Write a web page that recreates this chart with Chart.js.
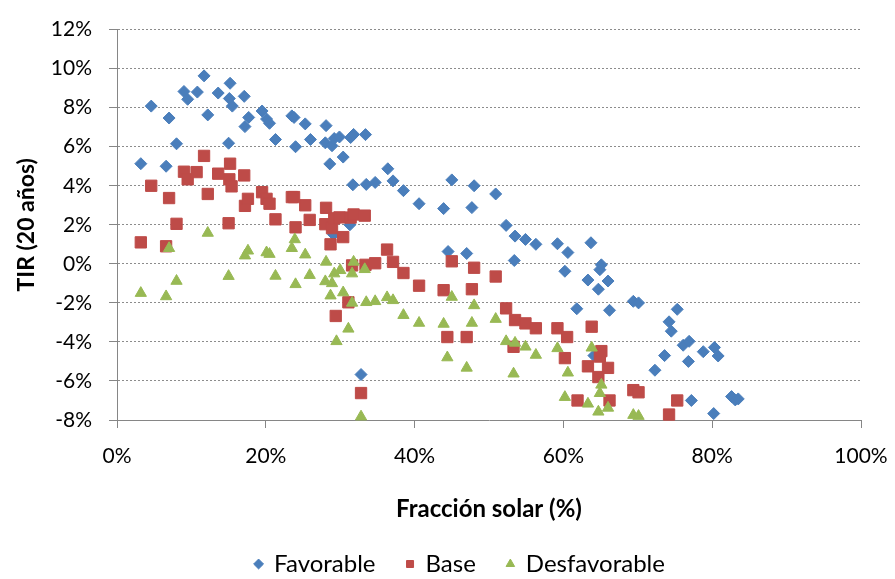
<!DOCTYPE html>
<html>
<head>
<meta charset="utf-8">
<script src="https://cdn.jsdelivr.net/npm/chart.js@4/dist/chart.umd.min.js"></script>
<style>
  html, body { margin: 0; padding: 0; background: #fff; }
  #wrap { width: 895px; height: 579px; }
</style>
</head>
<body>
<div id="wrap"><canvas id="tirChart" width="895" height="579"></canvas></div>
<script>
// Fracción solar (%) / TIR (%)
const favX = [3.2, 4.6, 6.6, 7.0, 8.0, 9.0, 9.5, 10.8, 11.7, 12.2, 13.6, 15.0, 15.1, 15.2, 15.5, 17.1, 17.2, 17.7, 19.5, 20.1, 20.5, 21.3, 23.5, 23.8, 24.0, 25.3, 26.0, 28.1, 28.0, 28.6, 28.9, 29.2, 29.9, 29.1, 30.4, 31.3, 31.4, 31.7, 31.8, 32.8, 33.4, 33.5, 34.7, 36.4, 37.1, 38.5, 40.6, 43.9, 44.5, 45.0, 47.0, 47.7, 48.0, 50.9, 52.3, 53.4, 53.5, 54.9, 56.3, 59.2, 60.2, 60.6, 61.8, 63.3, 63.7, 64.1, 64.7, 64.9, 65.1, 66.0, 66.2, 69.4, 70.1, 72.3, 73.6, 74.2, 74.5, 75.3, 76.1, 76.8, 76.9, 77.2, 78.8, 80.2, 80.3, 80.8, 82.6, 83.1, 83.5];
const favY = [5.13, 8.08, 5.0, 7.47, 6.15, 8.83, 8.43, 8.8, 9.63, 7.63, 8.75, 6.18, 8.47, 9.25, 8.08, 8.58, 7.03, 7.5, 7.83, 7.42, 7.2, 6.37, 7.58, 7.5, 6.0, 7.17, 6.37, 7.08, 6.2, 5.12, 6.05, 6.42, 6.5, 1.5, 5.47, 2.0, 6.47, 4.05, 6.63, -5.67, 6.62, 4.07, 4.17, 4.87, 4.25, 3.75, 3.08, 2.83, 0.63, 4.3, 0.53, 2.88, 4.0, 3.58, 1.97, 0.17, 1.42, 1.25, 1.0, 1.03, -0.38, 0.58, -2.3, -0.83, 1.08, -4.7, -1.3, -0.3, -0.05, -0.88, -2.38, -1.92, -2.0, -5.45, -4.7, -2.97, -3.45, -2.33, -4.17, -5.0, -3.97, -7.0, -4.5, -7.67, -4.28, -4.72, -6.8, -6.97, -6.92];

const baseX = [3.2, 4.6, 6.6, 7.0, 8.0, 9.0, 9.5, 10.7, 11.7, 12.2, 13.6, 15.0, 15.1, 15.2, 15.4, 17.1, 17.2, 17.6, 19.5, 20.1, 20.5, 21.3, 23.5, 23.8, 24.0, 25.3, 25.9, 28.1, 28.0, 28.7, 28.9, 29.2, 29.9, 29.4, 30.4, 31.1, 31.4, 31.6, 31.8, 32.8, 33.3, 33.4, 34.7, 36.3, 37.1, 38.5, 40.6, 43.9, 44.4, 45.0, 47.0, 47.7, 48.0, 50.9, 52.3, 53.3, 53.5, 54.9, 56.3, 59.2, 60.2, 60.5, 61.9, 63.3, 63.8, 64.7, 64.9, 65.1, 66.0, 66.2, 69.4, 70.1, 74.2, 75.3];
const baseY = [1.1, 4.0, 0.9, 3.37, 2.05, 4.72, 4.33, 4.7, 5.53, 3.58, 4.62, 2.08, 4.33, 5.13, 3.97, 4.53, 2.97, 3.33, 3.67, 3.33, 3.08, 2.28, 3.42, 3.42, 1.87, 3.0, 2.25, 2.87, 2.03, 1.0, 1.83, 2.33, 2.38, -2.67, 1.37, -1.97, 2.37, -0.08, 2.53, -6.62, 2.47, -0.05, 0.03, 0.73, 0.1, -0.47, -1.12, -1.35, -3.75, 0.13, -3.75, -1.3, -0.2, -0.65, -2.28, -4.25, -2.88, -3.05, -3.3, -3.3, -4.83, -3.75, -7.0, -5.25, -3.22, -5.8, -4.75, -4.47, -5.33, -7.0, -6.47, -6.58, -7.72, -7.0];

const desfX = [3.2, 6.6, 7.0, 8.0, 12.2, 15.0, 17.2, 17.6, 20.1, 20.5, 21.3, 23.5, 23.9, 24.0, 25.3, 25.9, 28.1, 28.0, 28.7, 28.9, 29.2, 30.0, 29.5, 30.4, 31.1, 31.6, 31.8, 31.6, 32.8, 33.3, 33.5, 34.7, 36.3, 37.1, 38.5, 40.6, 43.9, 44.4, 45.0, 47.0, 47.7, 48.0, 50.9, 52.3, 53.3, 53.5, 54.9, 56.3, 59.2, 60.2, 60.6, 63.3, 63.8, 64.7, 64.9, 65.1, 66.0, 69.4, 70.1];
const desfY = [-1.5, -1.67, 0.8, -0.88, 1.58, -0.63, 0.42, 0.67, 0.58, 0.5, -0.62, 0.8, 1.25, -1.05, 0.47, -0.58, 0.1, -0.9, -1.63, -1.0, -0.5, -0.33, -3.97, -1.47, -3.33, -0.5, 0.1, -2.0, -7.83, -0.28, -1.97, -1.92, -1.72, -1.87, -2.63, -3.03, -3.08, -4.8, -1.7, -5.33, -3.03, -2.13, -2.83, -3.97, -5.63, -4.05, -4.25, -4.67, -4.33, -6.83, -5.58, -7.17, -4.3, -7.58, -6.63, -6.2, -7.38, -7.75, -7.8];

const seriesNames = ["Favorable", "Base", "Desfavorable"];
const xTitle = "Fracción solar (%)";
const yTitle = "TIR (20 años)";

function toPoints(xs, ys) {
  return xs.map((x, i) => ({ x: x, y: ys[i] }));
}

const axisColor = "#868686";

function drawChart() {
  const ctx = document.getElementById("tirChart").getContext("2d");
  Chart.defaults.font.family = "Lato";
  Chart.defaults.color = "#000";

  new Chart(ctx, {
    type: "scatter",
    data: {
      datasets: [
        {
          label: seriesNames[0],
          data: toPoints(favX, favY),
          pointStyle: "rectRot",
          pointRadius: 6,
          backgroundColor: "#4A7EBB",
          borderColor: "#4A7EBB",
          borderWidth: 1,
          order: 3,
          clip: false,
        },
        {
          label: seriesNames[1],
          data: toPoints(baseX, baseY),
          pointStyle: "rect",
          pointRadius: 8,
          backgroundColor: "#BE4B48",
          borderColor: "#BE4B48",
          borderWidth: 1,
          order: 2,
          clip: false,
        },
        {
          label: seriesNames[2],
          data: toPoints(desfX, desfY),
          pointStyle: "triangle",
          pointRadius: 6.5,
          backgroundColor: "#98B954",
          borderColor: "#98B954",
          borderWidth: 1,
          order: 1,
          clip: false,
        },
      ],
    },
    options: {
      responsive: false,
      animation: false,
      devicePixelRatio: 1,
      layout: {
        padding: { left: 29, right: 4, top: 20, bottom: -7 },
      },
      plugins: {
        tooltip: { enabled: false },
        legend: {
          position: "bottom",
          labels: {
            usePointStyle: true,
            boxWidth: 7,
            boxHeight: 7,
            padding: 31,
            color: "#000",
            font: { size: 24 },
            sort: (a, b) => a.datasetIndex - b.datasetIndex,
          },
        },
      },
      scales: {
        x: {
          type: "linear",
          min: 0,
          max: 100,
          afterFit: (scale) => {
            scale.height = 101;
            // the 100% label may hang over the right margin
            scale.paddingLeft = 0;
            scale.paddingRight = 0;
          },
          ticks: {
            stepSize: 20,
            padding: 16,
            maxRotation: 0,
            color: "#000",
            font: { size: 21 },
            callback: (v) => v + "%",
          },
          grid: {
            drawOnChartArea: false,
            tickLength: 8,
            tickColor: axisColor,
          },
          border: { color: axisColor, width: 1 },
          title: {
            display: true,
            text: xTitle,
            color: "#000",
            font: { size: 24, weight: "bold" },
            padding: { top: 0, bottom: -3 },
          },
        },
        y: {
          min: -8,
          max: 12,
          afterFit: (scale) => {
            scale.width = 88;
          },
          ticks: {
            stepSize: 2,
            padding: 17,
            color: "#000",
            font: { size: 21 },
            callback: (v) => v + "%",
          },
          grid: {
            color: "#8c8c8c",
            tickLength: 8,
            tickColor: axisColor,
            tickBorderDash: [],
          },
          border: { color: axisColor, width: 1, dash: [2, 2] },
          title: {
            display: true,
            text: yTitle,
            color: "#000",
            font: { size: 23, weight: "bold" },
            padding: { top: -16, bottom: 0 },
          },
        },
        // empty right-hand axis, only keeps the plot's right edge where Excel had it
        yRight: {
          position: "right",
          display: true,
          afterFit: (scale) => {
            scale.width = 30;
          },
          ticks: { display: false },
          grid: { display: false },
          border: { display: false },
        },
      },
    },
  });
}

if (document.fonts && document.fonts.load) {
  Promise.all([
    document.fonts.load("21px Lato"),
    document.fonts.load("bold 24px Lato"),
  ]).then(drawChart, drawChart);
} else {
  drawChart();
}
</script>
</body>
</html>
